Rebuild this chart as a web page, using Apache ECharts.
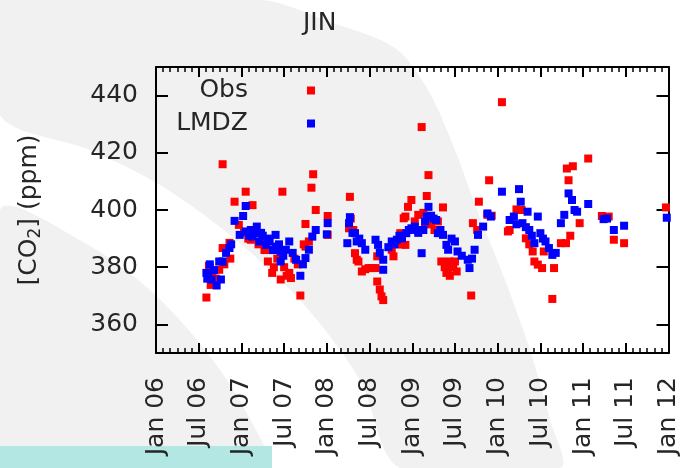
<!DOCTYPE html>
<html>
<head>
<meta charset="utf-8">
<script src="https://cdn.jsdelivr.net/npm/echarts@6/dist/echarts.min.js"></script>
<style>html,body{margin:0;padding:0;background:#fff}#c{width:681px;height:468px}</style>
</head>
<body>
<div id="c"></div>
<script>
// ---- data (x = decimal year, y = ppm) ----
var obs = [
[2006.59,369.4],[2006.61,377.5],[2006.62,380.5],[2006.63,379.8],[2006.64,373.8],[2006.66,377],[2006.70,376],[2006.74,379.1],
[2006.78,386.7],[2006.78,416.0],[2006.80,381],[2006.86,388.5],[2006.87,383],[2006.92,402.9],[2006.97,394.8],
[2007.03,392],[2007.05,406.4],[2007.08,390],[2007.11,389.6],[2007.13,401.7],[2007.16,392],[2007.20,388],
[2007.24,390],[2007.27,386],[2007.31,382],[2007.33,386],[2007.36,378],[2007.38,380],[2007.42,383],
[2007.46,375.7],[2007.48,406.4],[2007.50,380],[2007.53,377],[2007.56,378],[2007.58,376.2],[2007.62,383],
[2007.66,381],[2007.69,370.1],[2007.73,388],[2007.75,395.1],[2007.75,387.2],[2007.79,389],[2007.82,407.8],
[2007.84,412.5],[2007.87,400],[2008.01,397.9],[2008.01,391.3],[2008.26,393.6],[2008.27,404.6],[2008.28,397],
[2008.31,393],[2008.33,384.9],[2008.35,382.6],[2008.37,382],[2008.41,378.5],[2008.45,379.3],[2008.49,379.7],
[2008.53,379.7],[2008.57,379.7],[2008.59,375],[2008.59,383.8],[2008.62,372.2],[2008.64,369.8],[2008.66,368.5],
[2008.76,386.1],[2008.78,383.8],[2008.82,388],[2008.86,391.9],[2008.88,388],[2008.90,397.1],[2008.92,397.7],
[2008.92,387.8],[2008.95,401.1],[2008.99,403.5],[2009.03,396],[2009.07,398.3],[2009.11,429.0],[2009.13,399],
[2009.15,395],[2009.17,404.9],[2009.19,412.2],[2009.22,395],[2009.26,393],[2009.30,396],[2009.34,382],[2009.36,400.9],
[2009.38,380],[2009.40,378],[2009.42,379.7],[2009.43,382],[2009.44,377],[2009.46,380],[2009.48,380.9],[2009.50,382],[2009.52,378.5],
[2009.69,370.1],[2009.71,395.4],[2009.76,393],[2009.78,402.9],[2009.88,398.3],[2009.90,410.4],[2009.93,398],
[2010.05,437.7],[2010.12,392.5],[2010.14,393],[2010.22,400.2],[2010.28,400],[2010.33,390.1],[2010.37,388],
[2010.41,385.5],[2010.43,382],[2010.47,380.9],[2010.52,379.7],[2010.54,385.5],[2010.66,379.7],[2010.64,368.9],
[2010.74,388.4],[2010.80,388.4],[2010.81,414.5],[2010.83,410.4],[2010.85,391],[2010.88,415.3],[2010.96,395.4],
[2011.06,418],[2011.22,397.9],[2011.30,397.7],[2011.36,389.6],[2011.48,388.4],[2011.97,400.9]
];
var lmdz = [
[2006.59,378],[2006.60,376],[2006.61,377.4],[2006.63,381],[2006.65,375.7],[2006.68,379],[2006.71,373.6],[2006.74,382],
[2006.76,375.7],[2006.78,382],[2006.82,385],[2006.86,386.7],[2006.88,388],[2006.92,396.2],[2006.98,391.3],
[2007.02,397.9],[2007.05,401.4],[2007.05,392.5],[2007.09,391],[2007.11,393],[2007.13,390.7],[2007.16,392],[2007.18,394.2],[2007.21,389],
[2007.23,392],[2007.25,391],[2007.29,387.8],[2007.31,390],[2007.33,389],[2007.37,386],[2007.40,391.3],[2007.40,387.2],[2007.44,388],
[2007.46,385.5],[2007.46,382],[2007.49,384],[2007.52,386.1],[2007.56,389],[2007.60,385],[2007.64,382.6],[2007.69,377],
[2007.72,381],[2007.75,383.2],[2007.79,386.1],[2007.83,390.7],[2007.87,393],[2008.00,391.5],[2008.01,395.4],
[2008.24,388.4],[2008.26,395.4],[2008.27,397.5],[2008.30,392],[2008.33,391.9],[2008.35,389],[2008.38,390],
[2008.41,388.4],[2008.45,386.1],[2008.57,389.6],[2008.60,387.8],[2008.62,385],[2008.66,382.6],[2008.66,379.1],
[2008.72,387],[2008.76,389],[2008.79,388],[2008.82,389.6],[2008.85,391],[2008.88,390.1],[2008.93,391.9],[2008.96,393],
[2008.99,393.6],[2009.03,394.2],[2009.05,393],[2009.07,392],[2009.11,384.9],[2009.13,393],[2009.15,396],[2009.17,397.7],[2009.19,401.1],
[2009.22,398],[2009.25,397],[2009.28,396.5],[2009.30,391.9],[2009.33,393],[2009.36,391.3],[2009.40,387.8],[2009.42,386.1],
[2009.46,390],[2009.50,389],[2009.53,385.5],[2009.58,384],[2009.65,382.6],[2009.67,379.7],[2009.70,383],
[2009.73,386.1],[2009.77,391.3],[2009.83,394.2],[2009.88,398.8],[2009.92,397.7],[2010.05,406.4],[2010.14,396.5],
[2010.19,397.7],[2010.22,395],[2010.25,407.3],[2010.27,402.9],[2010.29,395.4],[2010.33,394],[2010.35,399.4],
[2010.37,393],[2010.40,391],[2010.43,388.4],[2010.47,397.7],[2010.50,391.9],[2010.53,390],[2010.56,389],
[2010.60,386.7],[2010.64,384.3],[2010.68,385],[2010.74,395.4],[2010.78,398.3],[2010.83,405.8],[2010.87,403.5],
[2010.90,400],[2010.93,399.4],[2011.06,402.1],[2011.24,396.8],[2011.28,397],[2011.36,393],[2011.48,394.5],
[2011.98,397.3]
];
var xTickLabels = ['Jan 06','Jul 06','Jan 07','Jul 07','Jan 08','Jul 08','Jan 09','Jul 09','Jan 10','Jul 10','Jan 11','Jul 11','Jan 12'];
var yTickValues = [360, 380, 400, 420, 440];
var seriesNames = ['Obs', 'LMDZ'];
var titleText = 'JIN';

var FONT = 'DejaVu Sans';
var TXT = '#262626';
var chart = echarts.init(document.getElementById('c'), null, {renderer: 'canvas'});

var axisLineStyle = {color: '#000', width: 2};
function xAxisBase(pos, showLabel) {
  return {
    type: 'value', position: pos, min: 2006, max: 2012, interval: 0.5,
    axisLine: {show: true, onZero: false, lineStyle: axisLineStyle},
    axisTick: {show: true, inside: true, length: 10, lineStyle: {color: '#000', width: 2}},
    minorTick: {show: true, splitNumber: 6, length: 5, lineStyle: {color: '#000', width: 1.5}},
    splitLine: {show: false}, minorSplitLine: {show: false},
    axisLabel: {
      show: showLabel, rotate: 90, margin: 24, fontFamily: FONT, fontSize: 25, color: TXT,
      formatter: function (v) { return xTickLabels[Math.round((v - 2006) * 2)]; }
    }
  };
}
function yAxisBase(pos, showLabel) {
  return {
    type: 'value', position: pos, min: 350, max: 450,
    axisLine: {show: true, onZero: false, lineStyle: axisLineStyle},
    axisTick: {show: true, inside: true, length: 12, customValues: yTickValues, lineStyle: {color: '#000', width: 2}},
    splitLine: {show: false},
    axisLabel: {show: showLabel, customValues: yTickValues, margin: 18, fontFamily: FONT, fontSize: 25, color: TXT}
  };
}
var yLeft = yAxisBase('left', true);
yLeft.name = '{n|[CO}{s|2}{n|] (ppm)}';
yLeft.nameLocation = 'middle';
yLeft.nameRotate = 90;
yLeft.nameGap = 112;
yLeft.nameTextStyle = {
  fontFamily: FONT, fontSize: 25, color: TXT,
  rich: {
    n: {fontFamily: FONT, fontSize: 25, color: TXT, lineHeight: 30},
    s: {fontFamily: FONT, fontSize: 17, color: TXT, lineHeight: 17, verticalAlign: 'bottom'}
  }
};

function legendFor(name, top) {
  return {
    data: [name], orient: 'vertical', right: 366, top: top, padding: 0,
    align: 'right', icon: 'rect', itemWidth: 8, itemHeight: 8,
    selectedMode: false,
    textStyle: {fontFamily: FONT, fontSize: 25, color: TXT, padding: [0, 54, 0, 0]}
  };
}

var gray = '#f1f1f1';
chart.setOption({
  backgroundColor: '#ffffff',
  animation: false,
  title: {text: titleText, left: 298, top: 6, textStyle: {fontFamily: FONT, fontSize: 25, fontWeight: 'normal', color: TXT}},
  graphic: [
    {type: 'polygon', z: -10, silent: true, shape: {smooth: 0.3, points: [[0,0],[262,0],[330,22],[395,48],[428,90],[455,150],[477,210],[505,280],[530,350],[550,420],[560,468],[400,468],[360,380],[300,300],[230,235],[160,185],[90,150],[0,115]]}, style: {fill: gray}},
    {type: 'polygon', z: -10, silent: true, shape: {smooth: 0.3, points: [[0,210],[80,240],[150,290],[205,350],[245,410],[265,468],[0,468]]}, style: {fill: gray}},
    {type: 'rect', z: -9, silent: true, shape: {x: 0, y: 446, width: 272, height: 22}, style: {fill: '#b3e7e4'}}
  ],
  legend: [legendFor('Obs', 78), legendFor('LMDZ', 111)],
  grid: {left: 156, right: 9, top: 67, bottom: 115, containLabel: false},
  xAxis: [xAxisBase('bottom', true), xAxisBase('top', false)],
  yAxis: [yLeft, yAxisBase('right', false)],
  series: [
    {name: seriesNames[0], type: 'scatter', symbol: 'rect', symbolSize: 8, data: obs, itemStyle: {color: '#ff0000', opacity: 1}, xAxisIndex: 0, yAxisIndex: 0},
    {name: seriesNames[1], type: 'scatter', symbol: 'rect', symbolSize: 8, data: lmdz, itemStyle: {color: '#0000ff', opacity: 1}, xAxisIndex: 0, yAxisIndex: 0}
  ]
});
</script>
</body>
</html>
